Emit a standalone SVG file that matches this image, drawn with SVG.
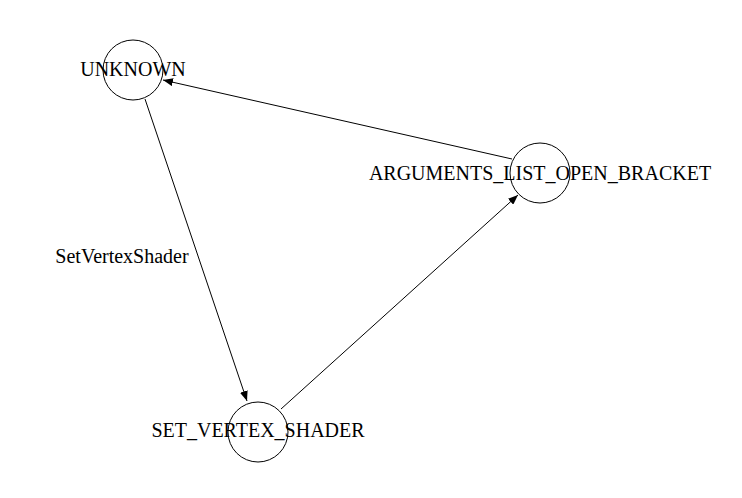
<svg xmlns="http://www.w3.org/2000/svg" width="742" height="498" viewBox="0 0 742 498">
<style>
.n{fill:none;stroke:#000;stroke-width:1}
.t{font-family:"Liberation Serif","Times New Roman",serif;font-size:20px;fill:#000;text-anchor:middle}
.e{stroke:#000;stroke-width:1;fill:none;marker-end:url(#a)}
</style>
<defs>
<marker id="a" markerWidth="10" markerHeight="8" refX="10" refY="4" orient="auto" markerUnits="userSpaceOnUse">
<path d="M0,0 L10,4 L0,8 Z" fill="#000"/>
</marker>
</defs>
<rect width="742" height="498" fill="#fff"/>
<g id="connectors">
<line class="e" x1="145" y1="99" x2="247" y2="401"/>
<line class="e" x1="281" y1="409" x2="518" y2="195"/>
<line class="e" x1="512" y1="159" x2="163" y2="80"/>
<text class="t" x="122" y="263">SetVertexShader</text>
</g>
<g id="UNKNOWN">
<circle class="n" cx="133" cy="70" r="30"/>
<text class="t" x="133" y="76">UNKNOWN</text>
</g>
<g id="ARGUMENTS_LIST_OPEN_BRACKET">
<circle class="n" cx="540" cy="173" r="30"/>
<text class="t" x="540" y="180">ARGUMENTS_LIST_OPEN_BRACKET</text>
</g>
<g id="SET_VERTEX_SHADER">
<circle class="n" cx="258" cy="432" r="30"/>
<text class="t" x="258" y="437">SET_VERTEX_SHADER</text>
</g>
</svg>
